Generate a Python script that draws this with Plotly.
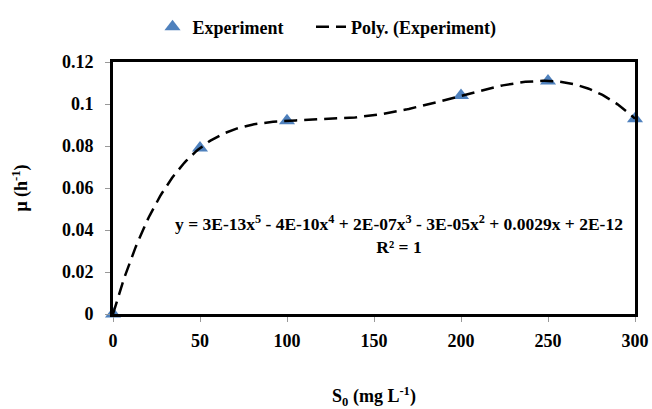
import numpy as np
import plotly.graph_objects as go

x_vals = [0, 50, 100, 200, 250, 300]
mu_vals = [0.0, 0.079, 0.092, 0.104, 0.111, 0.093]
x_ticks = [0, 50, 100, 150, 200, 250, 300]
y_ticks = [0, 0.02, 0.04, 0.06, 0.08, 0.1, 0.12]
y_tick_text = ["0", "0.02", "0.04", "0.06", "0.08", "0.1", "0.12"]

# 5th-order polynomial trendline (exact fit through the points)
coef = np.polyfit(x_vals, mu_vals, 5)
xs = np.linspace(0, 300, 301)
ys = np.polyval(coef, xs)

FONT = "Times New Roman, Liberation Serif, serif"

fig = go.Figure()
fig.add_trace(go.Scatter(
    x=x_vals, y=mu_vals, mode="markers", name="<b>Experiment</b>     ",
    marker=dict(symbol="triangle-up", size=14, color="#4F81BD"),
    cliponaxis=False,
))
fig.add_trace(go.Scatter(
    x=xs, y=ys, mode="lines", name="<b>Poly. (Experiment)</b>",
    line=dict(color="black", width=2.5, dash="13px,7px"),
    cliponaxis=False,
))

fig.update_layout(
    width=652, height=409,
    margin=dict(l=113, r=17, t=62, b=95, autoexpand=False),
    paper_bgcolor="white", plot_bgcolor="white",
    font=dict(family=FONT, size=18, color="black"),
    showlegend=True,
    legend=dict(orientation="h", x=0.41, xanchor="center", y=1.139, yanchor="middle",
                font=dict(family=FONT, size=18, color="black"),
                traceorder="normal"),
    xaxis=dict(range=[0, 300], tickvals=x_ticks, ticktext=[f"<b>{v}</b>" for v in x_ticks],
               showgrid=False, zeroline=False, showline=True, linecolor="black", linewidth=3,
               mirror=True, ticks="outside", tickcolor="#999", ticklen=5, tickwidth=1,
               tickfont=dict(family=FONT, size=18), ticklabelstandoff=3,
               title=dict(text="<b>S<sub>0</sub> (mg L<sup>-1</sup>)</b>", standoff=46,
                          font=dict(family=FONT, size=18))),
    yaxis=dict(range=[0, 0.12], tickvals=y_ticks, ticktext=[f"<b>{t}</b>" for t in y_tick_text],
               showgrid=False, zeroline=False, showline=True, linecolor="black", linewidth=3,
               mirror=True, ticks="outside", tickcolor="#999", ticklen=5, tickwidth=1,
               tickfont=dict(family=FONT, size=18), ticklabelstandoff=8,
               title=dict(text="<b>μ (h<sup>-1</sup>)</b>", standoff=30,
                          font=dict(family=FONT, size=18))),
    annotations=[dict(
        x=0.547, y=0.315, xref="paper", yref="paper", showarrow=False,
        xanchor="center", yanchor="middle",
        text="<b>y = 3E-13x<sup>5</sup> - 4E-10x<sup>4</sup> + 2E-07x<sup>3</sup> - 3E-05x<sup>2</sup> + 0.0029x + 2E-12</b><br><b>R² = 1</b>",
        font=dict(family=FONT, size=17.5, color="black"), align="center",
    )],
)

fig.write_html("out.html", config={"displayModeBar": False},
               post_script="document.body.style.margin='0';")
